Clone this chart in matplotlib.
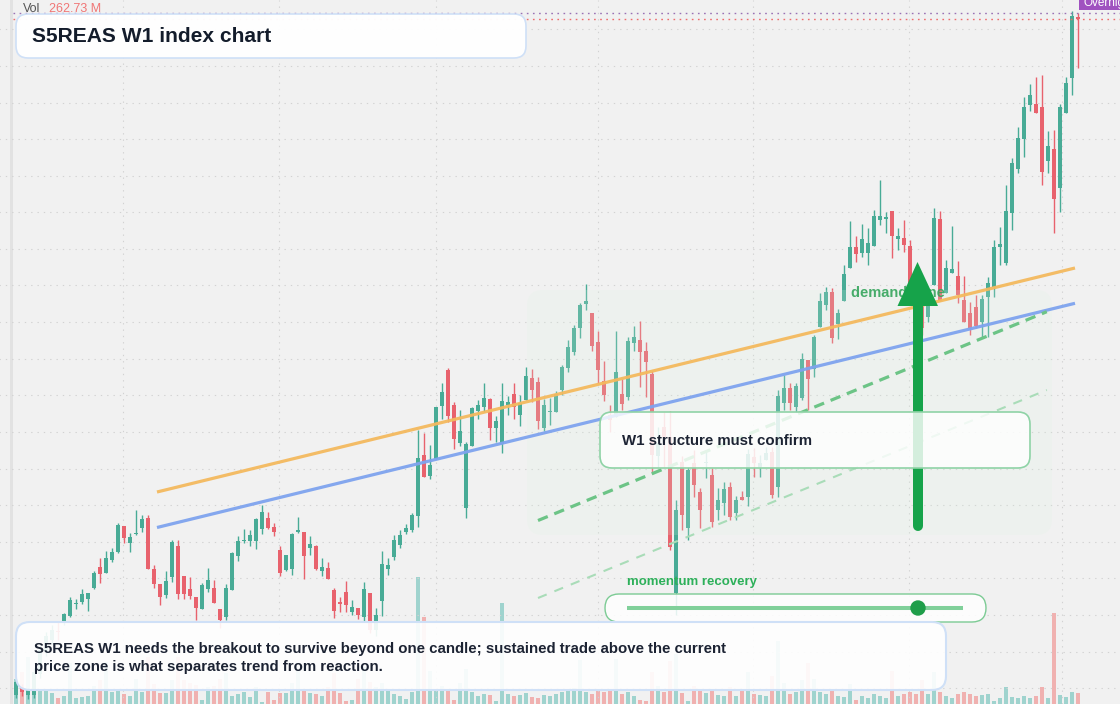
import matplotlib
matplotlib.use("Agg")
import matplotlib.pyplot as plt
from matplotlib.patches import FancyBboxPatch, Polygon, Circle, Rectangle
from matplotlib.lines import Line2D
from matplotlib.transforms import Affine2D
from matplotlib.colors import to_rgba
import numpy as np

# ---------------- data (weekly candles, index points) ----------------
opens = [9,17,9,9,30,52,64,73,82,88.3, 100,102.3,105.3,116.3,137,131.3,143.7,152.3,178,160.7,
         170,176.3,185.7,134.7,120,109,127.3,158,128,114.7, 106.7,95,115,116,95,87.3,114,148.3,162.7,163.3,
         163.3,175.3,186,177,154,134,135,172.3,172,156.3, 158,133,136,114,101,112,92,96,87.3,111,
         74,103,135,147,159,172,174,188.3,249,228.3, 244.7,298.3,334,299,261.3,196.3,258.3,293.3,297.3,305,
         276.3,260.3,299.3,310,289.3,304.3,326,322,276.3,291.7, 292.3,314.3,336,352.3,375.7,399.7,391.3,362,323,289,
         287.3,310,307.3,361.3,364,353,330,248,277,267.3, 111,242.3,175.7,241.3,212,241,229,194,201.3,216.7,
         190.7,206.7,207.3,247,237.3,244,252.3,216.7,301.3,315.7, 296.7,306.3,344,335.3,376.7,399,412,380.3,403.3,436.3,
         456.7,451.3,451.3,458.3,484.3,485.5,493,465.3,466,458, 404,399,387.3,419,484.7,411.3,430.7,428,404,390.7,
         396.7,382.3,406.7,417.3,456.7,441.3,490.7,535,565.3,599, 600,597,543.3,555,516.3,591.3,626.3,687]
highs = [24,20,16,36,59,72,79,82,91,106.7, 105,114.7,111,133.3,145.7,153,155.7,181,178,170.7,
         194,189,189,139,120,133,164,164,128,126.7, 106.7,120.7,135.7,124,95,119.7,152.3,168,174.7,174,
         186,199,191.7,181,158,149,171.3,187,172,168, 159,146,142,115.7,107,123,104,96,122,111,
         96,153,146,169,174,180,191,274,270.7,259, 297.3,321.3,336.3,302,294,262,297.3,304,321.3,306,
         288.3,321.3,308,321.3,309,337.3,335,327.3,305,306, 313,339.3,364,379,401.3,420,391.3,373,343,299,
         373,325,367.3,378.3,383,362.3,333.3,277.3,292.3,293.3, 204,248,237.3,254,215.7,254,235.7,215.7,222.3,222.3,
         208,213.3,254.7,255.7,249,257.3,257.3,314,329,320.7, 320.7,351.3,344,369,410.7,417.3,415.7,394.7,439,483,
         468,480,475.7,494,524,492,493,475.7,484,464, 409,404,404,495.7,493,444,478,443,428,402.3,
         409,409,427.3,464,477.3,519,545.7,577.3,607.3,620, 627.3,629,573,574,600,627.3,693,690.7]
lows = [6,8,5,6,26,48,60,64,79,87.3, 94.7,100,93.3,114.7,120.7,131.3,142.3,150.7,161.3,152.3,
        169.3,172.3,134.7,115.7,98.7,105.7,122.3,105,104.7,104.7, 84,94.7,112.3,101.3,76,84,114,143.3,160.7,158,
        155,169.7,175.3,168,128,133,129,171.3,125,149, 134,128,125,86.3,92,92,89,85.3,82.3,71,
        68,88.3,129,144,156,170,172,177.3,227.3,225.3, 244.7,285.3,282.3,254.7,258,186.3,258.3,285,292.3,264,
        262.3,251.3,289,285,278.3,304.3,302.3,275,273,279, 292.3,309.3,332,349,365.7,394,353,321.3,303,272.3,
        287.3,294,304,353,317.3,307.3,231.3,237.3,237.3,154, 89,174,164,207.3,175.7,225.7,177.3,184,189,184,
        184,204,198.3,227.3,227.3,244,205.7,207.3,294,294, 292.3,304,294,327.3,376.7,394,361.3,364.7,403.3,436.3,
        442.3,447.3,439,458.3,479,470.7,445.7,454,452.3,399, 386,369,382.3,419,403.3,411.3,430.7,400.7,382.3,369,
        375.7,367.3,367.3,407.3,439,439,474,530.7,547.3,593.3, 591.3,519,530.7,470.7,492.3,591.3,609.3,636.3]
closes = [22,12,14,32,54,68,74,72,90,104, 101,109.7,111,130.7,130.3,145.7,152,179,166.3,166.7,
          170.7,185,134.7,119.7,107.3,123,162,109.7,109.7,108.3, 95.7,119,124,101.3,84,116,151.3,163,163.3,169,
          185,192,176,172,131.3,149,170.3,173,148.3,160, 135,137,125,93.3,100.3,99.3,97,89,115,74,
          89,140,139,164,169,176,189,246.3,227.3,239, 297.3,312,288.3,265.3,273,260,295.7,299,306,276.3,
          283,303,302,297.3,301,328,314.3,283.3,299,292, 310.3,337.3,357,376,399,403,358.3,334,309,284,
          331.7,300,363,367,352,342.3,249,261,267.3,157.3, 194,189,234,219,194,241.5,182.3,204,215,187.3,
          204,204,250,241,241.3,251,209,308,315.7,301.3, 318,344.7,324.7,366.7,403,412,365.7,390.7,430,456.7,
          449.7,464.7,461.3,488,487.7,485.7,468.3,468,459.3,404, 394,376,400,485.7,403.3,435.7,435,409,382.3,375.7,
          378.3,405,420.7,456.7,459.7,493,541.3,566.3,597.3,608.7, 591.3,532.3,558,505,597.3,621,688,685.3]
volume_m = [625,800,1175,500,325,375,275,150,200,1025, 150,175,200,450,600,1050,300,375,250,200,
            625,300,1175,500,275,275,600,1175,600,525, 475,100,425,450,625,775,200,250,300,175,
            425,50,300,100,275,275,525,850,325,275, 250,200,425,775,275,75,100,625,925,550,
            425,525,350,250,200,125,300,3175,2175,825, 375,450,350,100,525,875,300,200,250,225,
            75,2525,250,200,225,275,175,150,225,200, 250,300,350,400,1100,300,250,350,300,350,
            1125,250,300,200,100,75,800,450,300,1075, 1250,275,75,450,350,275,350,225,200,425,
            200,350,800,250,225,200,700,1575,525,250, 300,600,1025,625,300,250,350,200,175,500,
            100,200,150,250,200,150,825,200,250,300, 250,600,250,800,300,200,150,250,300,250,
            200,225,250,75,150,425,175,150,200,150, 200,425,150,2275,225,175,300,262.73]
overnight_level = 690.7

# trend / channel lines: (start index, end index), (start price, end price)
upper_trend_idx, upper_trend_px = (23.5, 176.5), (212.0, 436.0)
lower_trend_idx, lower_trend_px = (23.5, 176.5), (176.5, 400.7)
channel_top_idx, channel_top_px = (87.0, 171.8), (183.5, 392.3)
channel_bot_idx, channel_bot_px = (87.0, 171.8), (106.0, 314.0)

title = "S5REAS W1 index chart"
note = ("S5REAS W1 needs the breakout to survive beyond one candle; sustained trade above the current\n"
        "price zone is what separates trend from reaction.")
confirm_label = "W1 structure must confirm"
zone_label = "demand zone"
momentum_label = "momentum recovery"

# ---------------- figure ----------------
W, H = 1120, 704
plt.rcParams['font.family'] = ['Liberation Sans', 'DejaVu Sans']
fig = plt.figure(figsize=(W / 100, H / 100), dpi=100, facecolor='#f1f1f1')
ax_v = fig.add_axes([0, 0, 1, 1])
ax = fig.add_axes([0, 0, 1, 1], sharex=ax_v)
ax_v.set_zorder(0)
ax.set_zorder(1)
for a in (ax, ax_v):
    a.set_axis_off()
PX = Affine2D().scale(1, -1).translate(0, H)   # pixel coords, origin top-left

o = np.array(opens); c = np.array(closes); hi = np.array(highs); lo = np.array(lows)
n = len(o)
idx = np.arange(n)
X0, DX = 16.0, 6.0
ax.set_xlim(-X0 / DX, (W - X0) / DX)
ax.set_ylim(0, H)
ax_v.set_ylim(0, 17600)

UP, DN = '#48ab96', '#e8626d'
up = c >= o
cols = np.where(up, UP, DN)

# left strip
ax_v.add_artist(Rectangle((10, 0), 3, H, transform=PX, color='#e2e2e2', lw=0))

# grid (dotted)
grid_x = [17.83, 43.83, 70.0, 97.0, 122.83, 148.83, 174.33]
grid_y = [674.7 - 36.6 * k for k in range(19)]
for gx in grid_x:
    ax_v.add_line(Line2D([gx, gx], [0, H], transform=ax.transData, color='#d2d2d2',
                         lw=0.8, ls=(0, (1.2, 4.5))))
for gy in grid_y:
    ax_v.add_line(Line2D([-3, 190], [gy, gy], transform=ax.transData, color='#d2d2d2',
                         lw=0.8, ls=(0, (1.2, 4.5))))

# volume
vcols = [to_rgba('#26a69a', 0.4) if u else to_rgba('#ef5350', 0.4) for u in up]
ax_v.bar(idx, volume_m, width=0.8, color=vcols, linewidth=0, zorder=1)

# candles
ax.vlines(idx, lo, hi, colors=cols, lw=1.0, zorder=2)
ax.bar(idx, np.maximum(np.abs(c - o), 1.3), bottom=np.minimum(o, c), width=0.82,
       color=cols, linewidth=0, zorder=2.1)

# last price / overnight dotted lines
ax.hlines(overnight_level, -0.5, 190, colors='#9a72b4', lw=1.0, ls=(0, (1.2, 3.2)), zorder=2.5)
ax.hlines(c[-1], -0.5, 190, colors='#ef6b6b', lw=1.0, ls=(0, (1.2, 3.2)), zorder=2.5)

# demand zone overlay
ax.add_artist(FancyBboxPatch((527, 290), 525, 245, boxstyle="round,pad=0,rounding_size=16",
                             transform=PX, facecolor=to_rgba('#dcf3e2', 0.18), edgecolor='none', zorder=3))

# trend & channel lines
ax.plot(upper_trend_idx, upper_trend_px, color='#f4b95e', lw=2.3, alpha=0.95, zorder=4,
        solid_capstyle='butt')
ax.plot(lower_trend_idx, lower_trend_px, color='#7ea3ee', lw=2.3, alpha=0.95, zorder=4,
        solid_capstyle='butt')
ax.plot(channel_top_idx, channel_top_px, color='#6cc486', lw=2.3, ls=(0, (3.3, 2.2)), zorder=4)
ax.plot(channel_bot_idx, channel_bot_px, color='#a9dcb8', lw=1.5, ls=(0, (4.5, 4.0)), zorder=4)

# demand zone label and arrow
ax.text(851, 293, zone_label, transform=PX, color='#35a55c', alpha=0.9, fontsize=10.5,
        fontweight='bold', va='center', ha='left', zorder=4.5)
ax.add_line(Line2D([917.5, 917.5], [526, 300], transform=PX, color='#16a34a', lw=7.2,
                   solid_capstyle='round', zorder=5))
ax.add_artist(Polygon([(897.5, 306), (938, 306), (917.5, 262)], closed=True, transform=PX,
                      facecolor='#16a34a', edgecolor='none', zorder=5))


def rbox(x0, y0, x1, y1, r, fc, fa, ec, lw, z):
    ax.add_artist(FancyBboxPatch((x0, y0), x1 - x0, y1 - y0,
                                 boxstyle=f"round,pad=0,rounding_size={r}", transform=PX,
                                 facecolor=to_rgba(fc, fa), edgecolor=ec, linewidth=lw, zorder=z))


# confirm box
rbox(600, 412, 1030, 468, 12, 'white', 0.82, '#8fd3a6', 1.2, 6)
ax.text(622, 441, confirm_label, transform=PX, fontsize=10.8, fontweight='bold',
        color='#1c2333', va='center', ha='left', zorder=7)

# momentum pill
ax.text(627, 582, momentum_label, transform=PX, fontsize=9.5, fontweight='bold',
        color='#2db05a', va='center', ha='left', zorder=7)
rbox(605, 594, 986, 622, 14, 'white', 0.85, '#7ccb94', 1.0, 6)
ax.add_line(Line2D([627, 963], [608, 608], transform=PX, color='#80d09a', lw=2.9,
                   solid_capstyle='butt', zorder=7))
ax.add_artist(Circle((918, 608), 7, transform=PX, color='#1f9e4a', zorder=7.5))

# note box
rbox(16, 622, 946, 690, 14, 'white', 0.9, '#cfe0f7', 1.5, 6)
ax.text(34, 658, note, transform=PX, fontsize=10.8, fontweight='bold', color='#1c2333',
        va='center', ha='left', linespacing=1.45, zorder=7)

# title box
rbox(16, 14, 526, 58, 12, 'white', 0.97, '#cfe0f7', 1.2, 6)
ax.text(32, 36.5, title, transform=PX, fontsize=15.1, fontweight='bold', color='#131c2b',
        va='center', ha='left', zorder=7)

# volume legend
ax.text(23, 9, "Vol", transform=PX, fontsize=9, color='#555555', va='center', ha='left', zorder=7)
ax.text(49, 9, f"{volume_m[-1]:.2f} M", transform=PX, fontsize=9, color='#f07575',
        va='center', ha='left', zorder=7)

# overnight tag
ax.add_artist(Rectangle((1079, -2), 45, 12, transform=PX, color='#a052c0', lw=0, zorder=7))
ax.text(1084, 3, "Overnight", transform=PX, fontsize=8.5, color='white', va='center',
        ha='left', zorder=7.5)

fig.savefig("out.png", dpi=100, facecolor=fig.get_facecolor())
